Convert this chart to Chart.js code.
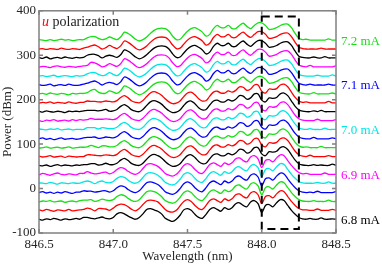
<!DOCTYPE html>
<html>
<head>
<meta charset="utf-8">
<script src="https://cdn.jsdelivr.net/npm/chart.js@4.4.1/dist/chart.umd.min.js"></script>
<style>
body{margin:0;background:#fff;}
</style>
</head>
<body>
<canvas id="spectraChart" width="382" height="264"></canvas>
<script>
// wavelength axis (nm)
const wavelengths = [
  846.5, 846.525, 846.55, 846.575, 846.6, 846.625, 846.65, 846.675, 846.7, 846.725,
  846.75, 846.775, 846.8, 846.825, 846.85, 846.875, 846.9, 846.925, 846.95, 846.975,
  847.0, 847.025, 847.05, 847.075, 847.1, 847.125, 847.15, 847.175, 847.2, 847.225,
  847.25, 847.275, 847.3, 847.325, 847.35, 847.375, 847.4, 847.425, 847.45, 847.475,
  847.5, 847.525, 847.55, 847.575, 847.6, 847.625, 847.65, 847.675, 847.7, 847.725,
  847.75, 847.775, 847.8, 847.825, 847.85, 847.875, 847.9, 847.925, 847.95, 847.975,
  848.0, 848.025, 848.05, 848.075, 848.1, 848.125, 848.15, 848.175, 848.2, 848.225,
  848.25, 848.275, 848.3, 848.325, 848.35, 848.375, 848.4, 848.425, 848.45, 848.475,
  848.5
];

// spectra as plotted (stacked), one per bias current, dBm
const p680 = [
  -69,-71,-68,-70,-67,-69,-71,-68,-70,-69,
  -67,-69,-65,-65,-67,-68,-66,-64,-67,-68,
  -65,-57,-54,-57,-62,-66,-69,-65,-57,-47,
  -45,-48,-51,-57,-67,-71,-74,-69,-60,-48,
  -45,-49,-58,-65,-67,-58,-47,-43,-47,-51,
  -43,-47,-43,-34,-32,-38,-41,-30,-27,-34,
  -54,-38,-36,-41,-32,-25,-27,-38,-49,-58,
  -65,-68,-69,-67,-69,-69,-66,-69,-69,-68,-69
];
const p682 = [
  -48,-50,-47,-49,-51,-48,-49,-50,-47,-50,
  -49,-48,-47,-44,-46,-50,-45,-45,-46,-49,
  -44,-38,-35,-36,-41,-47,-50,-45,-36,-28,
  -26,-27,-30,-38,-47,-52,-53,-49,-39,-29,
  -25,-29,-38,-45,-47,-38,-27,-23,-27,-31,
  -23,-27,-23,-14,-12,-18,-21,-10,-7,-14,
  -34,-18,-16,-21,-12,-5,-7,-18,-29,-38,
  -45,-48,-48,-49,-49,-46,-49,-49,-49,-47,-49
];
const p684 = [
  -30,-28,-29,-27,-30,-29,-28,-31,-29,-28,
  -30,-27,-26,-26,-25,-29,-27,-24,-26,-27,
  -25,-18,-14,-16,-22,-27,-29,-25,-16,-7,
  -5,-7,-11,-18,-27,-31,-33,-29,-20,-9,
  -5,-9,-18,-25,-27,-18,-7,-3,-7,-11,
  -3,-7,-3,6,8,2,-1,10,13,6,
  -14,2,4,-1,8,15,13,2,-9,-18,
  -25,-28,-29,-29,-27,-29,-29,-29,-26,-29,-29
];
const p686 = [
  -9,-7,-10,-8,-11,-8,-10,-7,-9,-11,
  -8,-8,-5,-6,-6,-8,-7,-5,-5,-8,
  -5,2,6,4,-2,-7,-9,-5,4,13,
  15,13,9,2,-7,-11,-13,-9,0,11,
  15,11,2,-5,-7,2,13,17,13,9,
  17,13,17,26,28,22,19,30,33,26,
  6,22,24,19,28,35,33,22,11,2,
  -5,-8,-9,-8,-9,-6,-9,-9,-9,-9,-7
];
const p688 = [
  13,12,11,14,12,10,13,12,11,13,
  12,12,15,17,15,11,15,17,14,13,
  16,23,27,25,19,14,12,16,25,34,
  36,34,30,23,14,10,8,12,21,32,
  36,32,23,16,14,23,34,38,34,30,
  38,34,38,47,49,43,40,51,54,47,
  27,43,45,40,49,56,54,43,32,23,
  16,13,12,12,12,14,12,12,15,12,12
];
const p690 = [
  31,34,32,30,33,35,32,31,33,32,
  31,34,34,38,35,33,34,36,37,33,
  36,43,47,45,39,34,32,36,45,54,
  56,54,50,43,34,30,28,32,41,52,
  56,52,43,36,34,43,54,58,54,50,
  58,54,58,67,69,63,60,71,74,67,
  47,63,65,60,69,76,74,63,52,43,
  36,33,34,32,32,32,32,35,32,32,32
];
const p692 = [
  52,51,53,50,52,54,51,53,52,51,
  53,52,54,54,56,56,53,54,57,54,
  54,57,64,68,63,56,53,52,57,66,
  74,77,74,69,61,54,50,51,56,66,
  74,76,70,61,56,57,67,76,78,74,
  74,79,76,80,88,87,80,83,92,92,
  78,74,83,82,84,92,94,88,76,64,
  56,53,52,52,54,52,53,52,52,55,52
];
const p694 = [
  73,71,72,74,71,72,73,70,73,72,
  71,72,72,76,76,75,74,74,76,75,
  74,77,84,88,83,76,73,72,77,86,
  94,97,94,89,81,74,70,71,76,86,
  94,96,90,81,76,77,87,96,98,94,
  94,99,96,100,108,107,100,103,112,112,
  98,94,103,102,104,112,114,108,96,84,
  76,73,72,75,72,72,72,72,74,72,72
];
const p696 = [
  91,92,94,91,92,93,91,92,94,91,
  92,93,93,94,97,95,92,96,96,94,
  94,97,104,108,103,96,93,92,97,106,
  114,117,114,109,101,94,90,91,96,106,
  114,116,110,101,96,97,107,116,118,114,
  114,119,116,120,128,127,120,123,132,132,
  118,114,123,122,124,132,134,128,116,104,
  96,93,94,92,92,92,95,92,92,92,92
];
const p698 = [
  112,114,111,113,110,112,114,111,112,113,
  111,112,114,115,115,116,113,114,116,115,
  114,117,124,128,123,116,113,112,117,126,
  134,137,134,129,121,114,110,111,116,126,
  134,136,130,121,116,117,127,136,138,134,
  134,139,136,140,148,147,140,143,152,152,
  138,134,143,142,144,152,154,148,136,124,
  116,113,112,112,115,112,112,112,112,114,112
];
const p700 = [
  134,133,132,134,133,135,132,133,134,132,
  133,133,133,137,137,137,134,137,136,135,
  135,138,145,149,144,137,134,133,138,147,
  155,158,155,150,142,135,131,132,137,147,
  155,157,151,142,137,138,148,157,159,155,
  155,160,157,161,169,168,161,164,173,173,
  159,155,164,163,165,173,175,169,157,145,
  137,134,133,135,133,133,133,136,133,133,133
];
const p702 = [
  153,151,154,153,155,152,153,154,152,155,
  153,155,154,155,158,156,156,156,157,156,
  155,158,165,169,164,157,154,153,158,167,
  175,178,175,170,162,155,151,152,157,167,
  175,177,171,162,157,158,168,177,179,175,
  175,180,177,181,189,188,181,184,193,193,
  179,175,184,183,185,193,195,189,177,165,
  157,154,153,153,153,156,153,153,153,153,155
];
const p704 = [
  174,172,175,173,172,174,173,171,174,173,
  174,173,175,176,176,176,175,176,178,174,
  175,178,185,189,184,177,174,173,178,187,
  195,198,195,190,182,175,171,172,177,187,
  195,197,191,182,177,178,188,197,199,195,
  195,200,197,201,209,208,201,204,213,213,
  199,195,204,203,205,213,215,209,197,185,
  177,174,173,173,175,173,176,173,173,173,173
];
const p706 = [
  192,194,193,195,192,194,193,192,195,193,
  192,194,194,197,196,196,195,195,197,196,
  195,198,205,209,204,197,194,193,198,207,
  215,218,215,210,202,195,191,192,197,207,
  215,217,211,202,197,198,208,217,219,215,
  215,220,217,221,229,228,221,224,233,233,
  219,215,224,223,225,233,235,229,217,205,
  197,194,195,193,193,193,193,193,196,193,193
];
const p708 = [
  213,214,212,215,213,212,214,213,211,214,
  213,214,214,216,221,223,217,214,215,220,
  217,214,220,231,228,222,215,211,214,220,
  228,235,239,240,239,233,222,214,215,224,
  233,239,241,237,231,222,226,239,246,241,
  241,246,239,239,246,251,244,239,246,252,
  252,246,237,238,241,246,249,249,241,228,
  217,214,213,213,216,213,213,213,213,215,213
];
const p710 = [
  234,232,233,235,231,233,234,232,235,233,
  232,233,235,237,240,242,238,233,237,239,
  237,234,240,251,248,242,235,231,234,240,
  248,255,259,260,259,253,242,234,235,244,
  253,259,261,257,251,242,246,259,266,261,
  261,266,259,259,266,271,264,259,266,272,
  272,266,257,258,261,266,269,269,261,248,
  237,234,233,235,233,233,233,233,235,233,233
];
const p712 = [
  253,254,252,253,255,252,253,254,253,252,
  254,253,254,258,261,261,257,254,256,261,
  257,254,260,271,268,262,255,251,254,260,
  268,275,279,280,279,273,262,254,255,264,
  273,279,281,277,271,262,266,279,286,281,
  281,286,279,279,286,291,284,279,286,292,
  292,286,277,278,281,286,289,289,281,268,
  257,254,253,253,253,255,253,253,253,256,253
];
const p714 = [
  273,275,274,272,275,276,274,273,275,274,
  273,275,276,277,284,283,279,274,276,281,
  278,275,281,292,289,283,276,272,275,281,
  289,296,300,301,300,294,283,275,276,285,
  294,300,302,298,292,283,287,300,307,302,
  302,307,300,300,307,312,305,300,307,313,
  313,307,298,299,302,307,310,310,302,289,
  278,275,274,277,274,274,274,274,274,274,276
];
const p716 = [
  295,293,296,292,294,295,293,296,294,293,
  295,294,295,300,302,302,299,294,298,300,
  298,295,301,312,309,303,296,292,295,301,
  309,316,320,321,320,314,303,295,296,305,
  314,320,322,318,312,303,307,320,327,322,
  322,327,320,320,327,332,325,320,327,333,
  333,327,318,319,322,327,330,330,322,309,
  298,295,294,294,296,294,294,297,294,294,294
];
const p718 = [
  314,315,313,315,314,313,316,314,313,315,
  314,313,316,318,321,323,319,314,317,322,
  318,315,321,332,329,323,316,312,315,321,
  329,336,340,341,340,334,323,315,316,325,
  334,340,342,338,332,323,327,340,347,342,
  342,347,340,340,347,352,345,340,347,353,
  353,347,338,339,342,347,350,350,342,329,
  318,315,314,314,314,314,316,314,314,314,314
];
const p720 = [
  335,334,333,335,333,334,336,334,335,333,
  334,335,335,339,342,342,338,335,337,341,
  338,335,341,352,349,343,336,332,335,341,
  349,356,360,361,360,354,343,335,336,345,
  354,360,362,358,352,343,347,360,367,362,
  362,367,360,360,367,372,365,360,367,373,
  373,367,358,359,362,367,370,370,362,349,
  338,335,336,334,334,334,334,334,337,334,334
];

const traces = [p680, p682, p684, p686, p688, p690, p692, p694, p696, p698, p700,
                p702, p704, p706, p708, p710, p712, p714, p716, p718, p720];

// labelled currents and which trace they belong to
const currentLabels = ["6.8 mA", "6.9 mA", "7.0 mA", "7.1 mA", "7.2 mA"];
const labelTrace = [0, 5, 10, 15, 20];

// dashed box (wavelength, power)
const boxWl = [848.0, 848.25];
const boxPower = [-91, 387];

const palette = ["#000000", "#ff0000", "#16e016", "#0000ff", "#00e6e6", "#ff00ff"];
const traceColors = traces.map((t, i) => palette[i % 6]);

const serif = "'Liberation Serif', 'DejaVu Serif', serif";

/* frame, inward ticks, box and texts */
const decorations = {
    id: "decorations",
    afterDatasetsDraw(chart){
        const {ctx, chartArea: a, scales: {x, y}} = chart;
        ctx.save();

        // dashed box
        ctx.strokeStyle = "#000";
        ctx.lineWidth = 2;
        ctx.setLineDash([8, 5]);
        const bx0 = x.getPixelForValue(boxWl[0]), bx1 = x.getPixelForValue(boxWl[1]);
        const by0 = y.getPixelForValue(boxPower[1]), by1 = y.getPixelForValue(boxPower[0]);
        ctx.strokeRect(bx0, by0, bx1 - bx0, by1 - by0);
        ctx.setLineDash([]);

        // frame
        ctx.strokeStyle = "#808080";
        ctx.lineWidth = 1.5;
        ctx.strokeRect(a.left, a.top, a.right - a.left, a.bottom - a.top);
        ctx.beginPath();
        x.ticks.forEach(t => {
            const px = x.getPixelForValue(t.value);
            ctx.moveTo(px, a.bottom); ctx.lineTo(px, a.bottom - 4);
            ctx.moveTo(px, a.top); ctx.lineTo(px, a.top + 4);
        });
        y.ticks.forEach(t => {
            const py = y.getPixelForValue(t.value);
            ctx.moveTo(a.left, py); ctx.lineTo(a.left + 4, py);
            ctx.moveTo(a.right, py); ctx.lineTo(a.right - 4, py);
        });
        ctx.stroke();

        // current labels
        ctx.font = "13px " + serif;
        ctx.textAlign = "left";
        ctx.textBaseline = "middle";
        labelTrace.forEach((ti, k) => {
            const tr = traces[ti];
            ctx.fillStyle = traceColors[ti];
            ctx.fillText(currentLabels[k], a.right + 5, y.getPixelForValue(tr[tr.length - 1]) + 1);
        });

        // polarization note
        ctx.textBaseline = "alphabetic";
        ctx.font = "italic 14px " + serif;
        ctx.fillStyle = "#ff0000";
        ctx.fillText("u", a.left + 3, a.top + 15);
        const uw = ctx.measureText("u").width;
        ctx.font = "14px " + serif;
        ctx.fillStyle = "#222";
        ctx.fillText(" polarization", a.left + 3 + uw, a.top + 15);

        ctx.restore();
    }
};

new Chart(document.getElementById("spectraChart"), {
    type: "line",
    data: {
        labels: wavelengths,
        datasets: traces.map((t, i) => ({
            data: t,
            borderColor: traceColors[i],
            borderWidth: 1.3,
            pointRadius: 0,
            tension: 0.3,
            fill: false
        }))
    },
    options: {
        responsive: false,
        animation: false,
        layout: { padding: { top: 5, right: 46, left: 0, bottom: 0 } },
        plugins: {
            legend: { display: false },
            tooltip: { enabled: false }
        },
        scales: {
            x: {
                type: "linear",
                min: 846.5,
                max: 848.5,
                grid: { display: false, drawTicks: false },
                border: { display: false },
                ticks: {
                    stepSize: 0.5,
                    padding: 4,
                    color: "#262626",
                    font: { family: serif, size: 13 },
                    maxRotation: 0,
                    callback: v => v.toFixed(1)
                },
                title: {
                    display: true,
                    text: "Wavelength (nm)",
                    color: "#262626",
                    font: { family: serif, size: 13 },
                    padding: { top: 0, bottom: 0 }
                },
                afterFit(s){ s.height = 31; }
            },
            y: {
                min: -100,
                max: 400,
                grid: { display: false, drawTicks: false },
                border: { display: false },
                ticks: {
                    stepSize: 100,
                    padding: 3,
                    color: "#262626",
                    font: { family: serif, size: 13 }
                },
                title: {
                    display: true,
                    text: "Power (dBm)",
                    color: "#262626",
                    font: { family: serif, size: 13 },
                    padding: { top: 0, bottom: 0 }
                },
                afterFit(s){ s.width = 39; }
            }
        }
    },
    plugins: [decorations]
});
</script>
</body>
</html>
